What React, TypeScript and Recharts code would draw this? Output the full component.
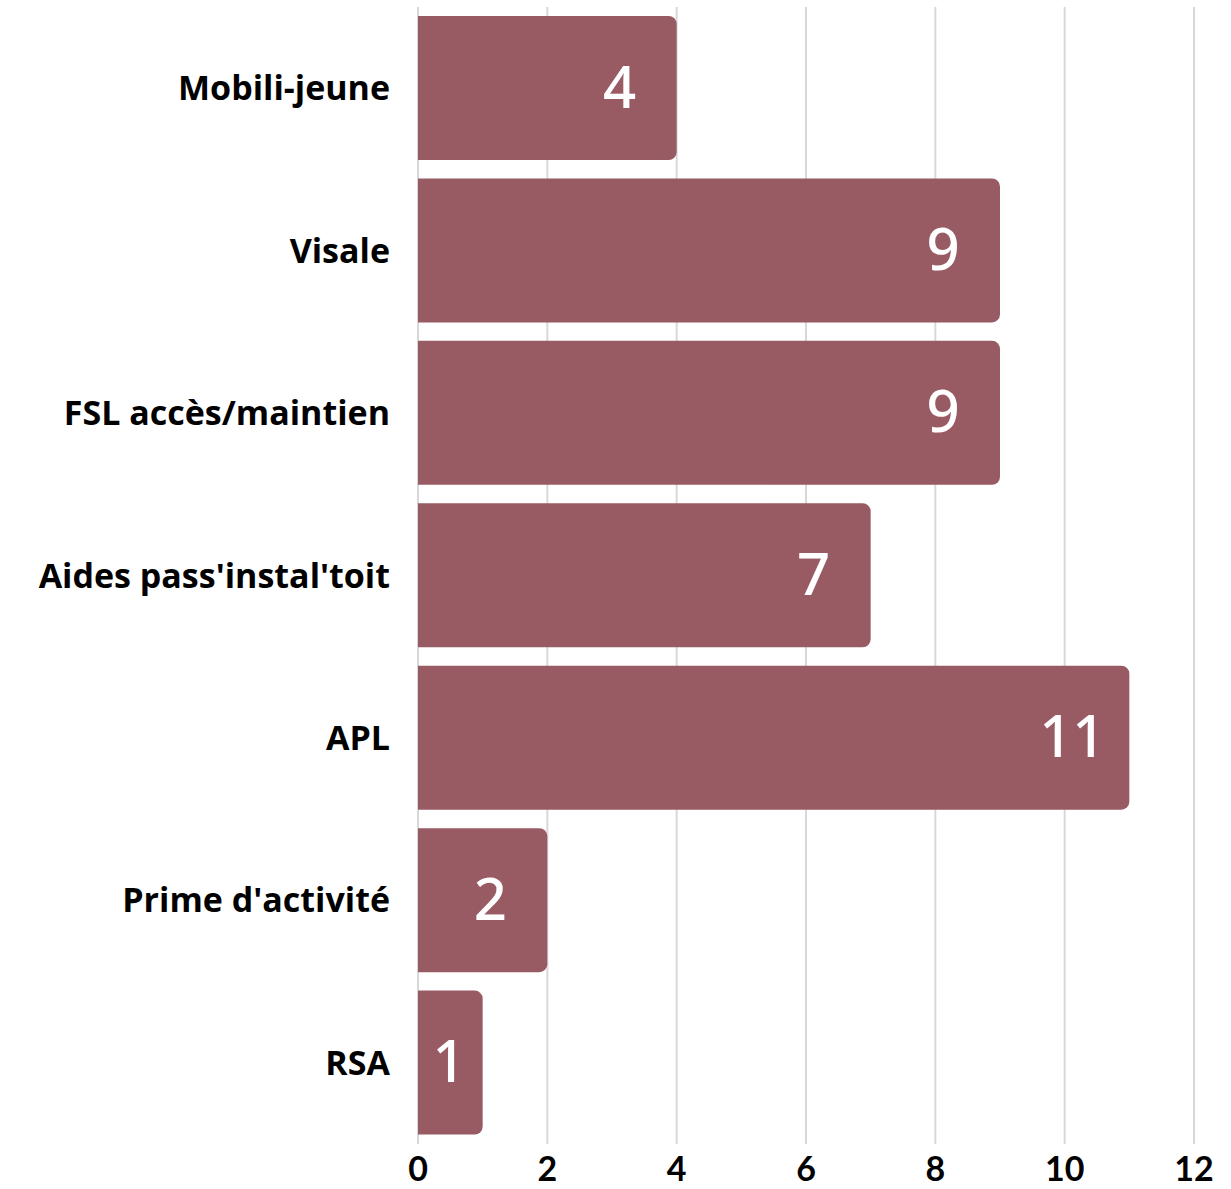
import { BarChart, Bar, XAxis, YAxis, CartesianGrid, LabelList } from 'recharts';

const CATEGORIES = [
  'Mobili-jeune',
  'Visale',
  'FSL accès/maintien',
  "Aides pass'instal'toit",
  'APL',
  "Prime d'activité",
  'RSA',
];
const COUNTS = [4, 9, 9, 7, 11, 2, 1];
const X_TICKS = [0, 2, 4, 6, 8, 10, 12];

const data = CATEGORIES.map((name, i) => ({ name, value: COUNTS[i] }));

const BAR_COLOR = '#985B63';

// value label centred ~57px before the bar end, but never past the bar start
function ValueLabel({ x, y, width, height, value }: any) {
  const cx = Math.max(x + width - 57, x + 31);
  return (
    <text
      x={cx}
      y={y + height / 2 - 3}
      textAnchor="middle"
      dominantBaseline="central"
      fill="#fff"
      style={{ fontSize: 58, fontWeight: 500, fontFamily: 'Noto Sans' }}
    >
      {value}
    </text>
  );
}

export default function App() {
  return (
    <div style={{ position: 'absolute', left: 0, top: 0, width: 1231, height: 1189, background: '#fff' }}>
      <BarChart
        width={1231}
        height={1189}
        data={data}
        layout="vertical"
        margin={{ top: 7, right: 37, bottom: 0, left: 0 }}
        barCategoryGap={9}
      >
        <CartesianGrid horizontal={false} stroke="#d8d8d8" strokeWidth={2} />
        <XAxis
          type="number"
          domain={[0, 12]}
          ticks={X_TICKS}
          interval={0}
          axisLine={false}
          tickLine={false}
          tickSize={0}
          tickMargin={13}
          height={45}
          tick={{ fontSize: 34, fontWeight: 700, fill: '#000', fontFamily: 'Lato' }}
        />
        <YAxis
          type="category"
          dataKey="name"
          width={418}
          axisLine={false}
          tickLine={false}
          tickSize={0}
          tickMargin={28}
          interval={0}
          tick={{ fontSize: 34, fontWeight: 700, fill: '#000', fontFamily: 'Open Sans' }}
        />
        <Bar dataKey="value" fill={BAR_COLOR} radius={[0, 8, 8, 0]} isAnimationActive={false}>
          <LabelList dataKey="value" content={<ValueLabel />} />
        </Bar>
      </BarChart>
    </div>
  );
}
